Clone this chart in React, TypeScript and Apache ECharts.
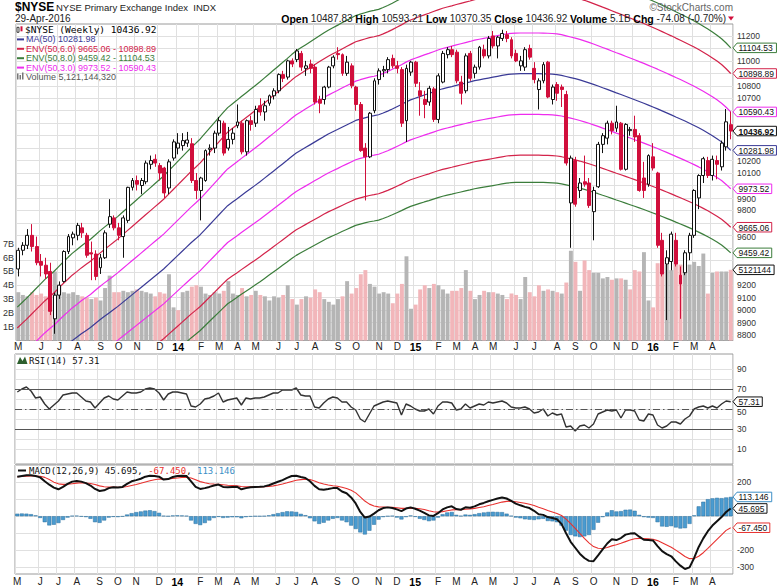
import React, { useEffect, useRef } from "react";
import * as echarts from "echarts";

// ---------------- DATA ----------------
const START_UTC = Date.UTC(2013, 4, 3); // first weekly bar: 3-May-2013
const WEEKS = 157;

const opens = [
  9330, 9480, 9520, 9600, 9510, 9390, 9360, 9310, 8930, 9120,
  9230, 9470, 9580, 9600, 9660, 9600, 9460, 9450, 9340, 9420,
  9690, 9740, 9660, 9590, 9720, 9985, 10040, 10000, 10030, 10170,
  10210, 10160, 10140, 9980, 10220, 10300, 10320, 10340, 10335, 10040,
  9960, 10040, 10290, 10300, 10420, 10500, 10300, 10370, 10480, 10500,
  10270, 10520, 10500, 10640, 10590, 10660, 10720, 10760, 10890, 10870,
  11000, 11010, 11060, 10940, 10975, 10950, 10690, 10690, 10790, 10960,
  11060, 11050, 10900, 10960, 10790, 10650, 10300, 10230, 10600, 10850,
  10920, 10930, 11020, 10960, 10930, 10520, 10910, 10990, 10760, 10690,
  10670, 10775, 10530, 10830, 11050, 11090, 11070, 10830, 10760, 11060,
  10900, 10950, 11090, 11040, 11200, 11120, 11180, 11210, 11170, 11060,
  10960, 10950, 11100, 10940, 10770, 10840, 10990, 10690, 10810, 10790,
  10730, 9860, 10200, 9960, 10030, 10020, 9790, 9990, 10330, 10380,
  10500, 10460, 10500, 10130, 10440, 10450, 10400, 10060, 10010, 10230,
  10100, 9560, 9370, 9390, 9560, 9280, 9300, 9460, 9600, 9900,
  10080, 10200, 10080, 10200, 10150, 10310, 10487.83,
];
const highs = [
  9500, 9545, 9650, 9690, 9590, 9450, 9420, 9380, 9140, 9230,
  9480, 9610, 9630, 9700, 9700, 9620, 9550, 9480, 9450, 9640,
  9890, 9760, 9700, 9760, 9990, 10060, 10080, 10060, 10200, 10240,
  10250, 10180, 10150, 10210, 10370, 10420, 10420, 10430, 10380, 10100,
  10070, 10290, 10330, 10440, 10550, 10520, 10470, 10460, 10650, 10520,
  10530, 10560, 10640, 10700, 10680, 10730, 10780, 10900, 10920, 11010,
  11020, 11095, 11080, 11000, 11010, 10975, 10720, 10800, 10960, 11045,
  11110, 11060, 11040, 10980, 10800, 10670, 10340, 10590, 10860, 10940,
  10960, 11030, 11050, 11000, 10950, 10970, 11000, 11000, 10830, 10760,
  10800, 10790, 10900, 11080, 11110, 11120, 11090, 10880, 11060, 11080,
  10970, 11120, 11130, 11200, 11240, 11200, 11250, 11240, 11190, 11090,
  11040, 11110, 11130, 10990, 10860, 10990, 11000, 10810, 10830, 10810,
  10760, 10240, 10230, 10060, 10240, 10060, 9990, 10350, 10420, 10520,
  10520, 10640, 10510, 10500, 10470, 10560, 10420, 10190, 10250, 10340,
  10110, 9620, 9480, 9630, 9620, 9350, 9480, 9620, 9970, 10090,
  10230, 10230, 10240, 10240, 10360, 10614, 10593.21,
];
const lows = [
  9270, 9440, 9490, 9470, 9360, 9270, 9250, 8960, 8810, 9090,
  9220, 9450, 9520, 9560, 9580, 9420, 9240, 9240, 9290, 9410,
  9660, 9640, 9560, 9420, 9700, 9960, 9960, 9930, 10010, 10130,
  10150, 10040, 9900, 9930, 10200, 10250, 10280, 10310, 10020, 9890,
  9720, 10030, 10240, 10260, 10400, 10240, 10280, 10330, 10460, 10250,
  10240, 10440, 10470, 10560, 10520, 10640, 10690, 10740, 10830, 10850,
  10950, 10990, 10920, 10880, 10900, 10650, 10580, 10650, 10780, 10940,
  11010, 10880, 10880, 10780, 10600, 10270, 9880, 10220, 10580, 10810,
  10870, 10900, 10940, 10900, 10470, 10350, 10880, 10790, 10560, 10540,
  10640, 10510, 10500, 10820, 11020, 11030, 10820, 10650, 10740, 10840,
  10860, 10930, 11020, 11020, 11100, 11020, 11160, 11150, 11020, 10990,
  10920, 10920, 11010, 10820, 10610, 10820, 10700, 10650, 10680, 10630,
  10160, 9500, 9830, 9900, 9990, 9820, 9560, 9980, 10260, 10330,
  10410, 10430, 10120, 10120, 10400, 10350, 9950, 9900, 9990, 10120,
  9500, 9270, 8920, 9320, 9350, 8930, 9280, 9400, 9580, 9810,
  10020, 10060, 10040, 10050, 10120, 10280, 10370.35,
];
const closes = [
  9480, 9520, 9600, 9510, 9380, 9360, 9290, 8990, 9120, 9200,
  9470, 9590, 9610, 9680, 9620, 9440, 9450, 9270, 9420, 9620,
  9750, 9660, 9600, 9740, 9985, 10040, 10010, 10040, 10180, 10200,
  10180, 10100, 9940, 10190, 10350, 10340, 10360, 10365, 10040, 9960,
  10060, 10280, 10300, 10420, 10520, 10260, 10370, 10420, 10510, 10270,
  10520, 10490, 10610, 10590, 10640, 10720, 10760, 10890, 10860, 11000,
  10975, 11080, 10950, 10960, 10940, 10670, 10660, 10790, 10950, 11030,
  11050, 10900, 10990, 10800, 10650, 10280, 10230, 10580, 10840, 10920,
  10930, 11010, 10960, 10940, 10500, 10940, 10990, 10820, 10720, 10650,
  10780, 10530, 10880, 11060, 11090, 11050, 10840, 10740, 11040, 10860,
  10950, 11110, 11040, 11180, 11120, 11190, 11220, 11180, 11040, 11000,
  11000, 11090, 11030, 10850, 10840, 10970, 10710, 10790, 10740, 10770,
  10180, 10220, 9850, 10020, 10010, 9840, 9960, 10330, 10400, 10500,
  10440, 10510, 10130, 10490, 10450, 10390, 9960, 9960, 10240, 10140,
  9520, 9290, 9420, 9610, 9370, 9210, 9460, 9600, 9960, 10080,
  10215, 10080, 10210, 10170, 10340, 10511, 10436.92,
];
// weekly volume, billions of shares
const volumes = [
  3.5, 3.3, 3.2, 3.5, 3.3, 3.4, 3.2, 4.6, 5.0, 3.9,
  3.5, 3.4, 3.5, 3.3, 3.2, 3.1, 3.0, 3.1, 2.9, 3.8,
  4.7, 3.5, 3.5, 3.6, 3.5, 3.6, 3.7, 3.6, 3.5, 3.4,
  3.2, 3.5, 3.4, 4.8, 2.4, 2.2, 3.5, 3.6, 3.9, 4.0,
  3.9, 3.4, 3.3, 3.5, 3.4, 3.6, 4.3, 3.4, 3.3, 3.8,
  3.2, 3.3, 3.6, 3.3, 3.2, 2.9, 3.2, 3.1, 3.3, 4.0,
  3.0, 2.6, 3.0, 3.2, 3.1, 3.7, 3.5, 3.0, 2.8, 2.6,
  3.0, 3.2, 4.3, 3.4, 3.8, 4.8, 5.1, 4.1, 3.9, 3.4,
  3.5, 3.4, 2.7, 3.4, 4.1, 6.1, 2.3, 2.6, 3.7, 4.0,
  3.8, 4.1, 4.0, 3.7, 3.4, 3.6, 3.6, 3.8, 5.1, 3.6,
  3.0, 3.3, 3.6, 3.5, 3.5, 3.4, 3.3, 3.0, 3.4, 3.3,
  3.0, 4.6, 3.5, 3.2, 4.0, 3.6, 3.7, 3.6, 3.5, 3.4,
  4.2, 6.5, 5.7, 3.6, 5.8, 5.1, 4.9, 4.9, 4.5, 4.6,
  4.4, 4.5, 4.5, 4.4, 3.7, 5.1, 5.0, 6.4, 2.9, 2.4,
  5.6, 5.9, 5.5, 5.1, 5.6, 5.5, 5.0, 5.5, 5.7, 5.4,
  6.3, 3.4, 4.9, 5.0, 5.0, 5.0, 5.121144320,
];
const ma50 = [
  8355, 8388, 8420, 8455, 8490, 8525, 8560, 8590, 8620, 8655,
  8690, 8722, 8755, 8782, 8810, 8835, 8860, 8890, 8920, 8948,
  8975, 9002, 9030, 9060, 9090, 9120, 9150, 9180, 9210, 9240,
  9270, 9300, 9330, 9365, 9400, 9435, 9470, 9505, 9540, 9572,
  9605, 9644, 9683, 9722, 9761, 9800, 9838, 9865, 9892, 9920,
  9947, 9974, 10001, 10028, 10057, 10086, 10115, 10144, 10173, 10202,
  10232, 10260, 10282, 10304, 10326, 10348, 10370, 10392, 10413, 10431,
  10449, 10468, 10486, 10504, 10522, 10533, 10543, 10553, 10560, 10568,
  10582, 10597, 10614, 10632, 10650, 10670, 10687, 10700, 10713, 10726,
  10738, 10751, 10764, 10776, 10785, 10794, 10804, 10813, 10822, 10831,
  10841, 10848, 10855, 10862, 10869, 10876, 10883, 10890, 10894, 10896,
  10897, 10897, 10897, 10897, 10897, 10896, 10895, 10893, 10890, 10884,
  10875, 10866, 10857, 10847, 10836, 10824, 10811, 10798, 10784, 10771,
  10757, 10743, 10730, 10716, 10702, 10688, 10674, 10660, 10645, 10630,
  10615, 10599, 10583, 10567, 10550, 10534, 10517, 10500, 10482, 10463,
  10443, 10422, 10400, 10376, 10350, 10318, 10281.975,
];
const rsi14 = [
  67, 70, 72, 68, 61, 62, 55, 50, 54, 58,
  64, 65, 66, 66, 62, 58, 57, 51, 56, 61,
  63, 60, 59, 63, 67, 66, 66, 67, 70, 71,
  70, 66, 59, 65, 67, 67, 66, 65, 53, 52,
  55, 60, 61, 63, 66, 57, 59, 60, 61, 54,
  61, 60, 61, 61, 62, 64, 66, 66, 69, 69,
  69, 71, 64, 63, 63, 52, 51, 56, 60, 62,
  61, 57, 57, 52, 49, 40, 37, 45, 53, 55,
  57, 58, 57, 56, 44, 55, 53, 50, 48, 48,
  50, 45, 53, 57, 57, 56, 49, 50, 55, 51,
  53, 55, 54, 57, 56, 57, 58, 56, 52, 51,
  51, 52, 50, 46, 47, 50, 43, 46, 44, 45,
  32, 33, 28, 33, 34, 31, 35, 45, 47, 49,
  48, 49, 41, 49, 49, 48, 39, 38, 45, 44,
  34, 31, 33, 37, 37, 35, 40, 43, 50, 52,
  53, 51, 53, 51, 55, 58, 57.31,
];
const macdLine = [
  232, 236, 240, 240, 236, 228, 205, 185, 168, 158,
  172, 190, 203, 207, 203, 194, 180, 160, 148, 152,
  165, 170, 168, 172, 190, 205, 212, 220, 232, 238,
  236, 232, 215, 218, 230, 236, 238, 236, 205, 172,
  160, 165, 172, 180, 186, 172, 170, 172, 173, 158,
  165, 170, 172, 173, 175, 182, 192, 202, 212, 225,
  236, 238, 230, 224, 205, 178, 158, 156, 160, 165,
  165, 145, 135, 110, 75, 25, -8, -2, 15, 35,
  48, 52, 48, 40, 30, 45, 52, 44, 33, 20,
  5, 2, 18, 40, 52, 58, 42, 38, 52, 50,
  58, 70, 78, 88, 96, 104, 110, 104, 90, 74,
  64, 55, 48, 32, 12, 8, -5, -10, -18, -45,
  -100, -150, -185, -220, -245, -262, -264, -230, -195, -160,
  -135, -140, -128, -108, -102, -100, -120, -138, -140, -142,
  -175, -205, -222, -235, -265, -290, -310, -300, -245, -180,
  -130, -88, -55, -30, -5, 25, 45.695,
];
const signalLine = [
  232, 233, 235, 236, 236, 235, 228, 215, 200, 190,
  187, 188, 191, 194, 196, 195, 192, 186, 178, 173,
  171, 171, 170, 170, 174, 180, 186, 193, 201, 208,
  214, 218, 218, 218, 221, 224, 227, 229, 224, 214,
  203, 196, 191, 189, 188, 185, 182, 180, 178, 174,
  172, 172, 172, 172, 173, 175, 178, 183, 189, 196,
  204, 211, 215, 217, 215, 207, 197, 189, 183, 179,
  176, 170, 163, 152, 137, 114, 89, 71, 60, 55,
  54, 53, 52, 50, 46, 46, 47, 46, 44, 39,
  32, 26, 24, 27, 32, 37, 38, 38, 41, 43,
  46, 51, 56, 63, 69, 76, 83, 87, 88, 85,
  81, 76, 70, 63, 53, 44, 34, 25, 16, 4,
  -17, -43, -72, -101, -130, -156, -178, -188, -189, -183,
  -174, -167, -159, -149, -140, -132, -130, -131, -133, -135,
  -143, -156, -169, -182, -199, -217, -236, -249, -248, -235,
  -214, -189, -162, -136, -110, -83, -67.45,
];
const macdHist = [
  15, 16, 15, 12, 5, -10, -35, -54, -50, -40,
  -22, -8, 2, 3, -2, -5, -15, -35, -39, -25,
  -8, -4, -5, -2, 10, 18, 24, 28, 33, 35,
  30, 20, 2, 0, 4, 5, 4, 2, -25, -45,
  -52, -40, -25, -10, -4, -10, -8, -6, -6, -12,
  -5, -2, 0, 0, 1, 5, 12, 18, 24, 29,
  28, 25, 14, 6, -12, -30, -45, -38, -25, -15,
  -10, -25, -35, -55, -75, -95, -107, -85, -50, -20,
  -5, 0, 2, -8, -19, -5, 4, -4, -15, -22,
  -29, -25, -8, 12, 22, 25, 8, 2, 10, 8,
  12, 18, 22, 25, 26, 25, 24, 15, 2, -8,
  -12, -18, -20, -22, -18, -15, -28, -30, -35, -55,
  -85, -110, -118, -122, -118, -110, -80, -38, -5, 22,
  35, 28, 30, 38, 39, 32, 8, -5, -8, -10,
  -35, -60, -62, -58, -66, -72, -70, -45, 5, 58,
  85, 100, 105, 108, 106, 110, 113.146,
];

const priceTicks = [8800, 8900, 9000, 9100, 9200, 9300, 9400, 9500, 9600, 9700, 9800, 9900, 10000, 10100, 10200, 10300, 10400, 10500, 10600, 10700, 10800, 10900, 11000, 11100, 11200];
const volumeTicks = [1, 2, 3, 4, 5, 6, 7];
const rsiLabelTicks = [10, 30, 50, 70, 90];
const rsiGridTicks = [10, 20, 30, 40, 50, 60, 70, 80, 90];
const macdTicks = [-300, -200, -100, 0, 100, 200];
const monthLetters = ["J", "F", "M", "A", "M", "J", "J", "A", "S", "O", "N", "D"];
const envelopes = [
  { pct: 6, color: "#d3234a" },
  { pct: 8, color: "#3b7d3b" },
  { pct: 3, color: "#ee2cee" },
];

// ---------------- LAYOUT ----------------
const W = 778;
const H = 587;
const PL = 15;
const PR = 45;
const P_TOP = 24;
const P_BOT = 340.5;
const P_MIN = 8756;
const P_MAX = 11296;
const V_MAX = 22.93;
const R_TOP = 354;
const R_H = 110;
const R_MIN = -5;
const R_MAX = 105;
const M_TOP = 465;
const M_H = 110;
const M_MIN = -339;
const M_MAX = 300.6;
const SANS = '"Liberation Sans", Arial, sans-serif';
const MONO = '"DejaVu Sans Mono", "Liberation Mono", monospace';
const GRIDC = "#e0e0e0";
const FRAME = "#9a9a9a";
const RED = "#d10f3c";
const NAVY = "#3a3a96";
const BLUE = "#3d8fc6";
const SIGRED = "#e8312f";
const AXF = 8.5; // right-axis label / tag font size
const TAG_H = 4.75;
const LABEL_CLEAR = 10;

const dates: Date[] = [];
for (let i = 0; i < WEEKS; i++) dates.push(new Date(START_UTC + i * 7 * 86400000));
const cats = dates.map((d) => d.toISOString().slice(0, 10));
const firstWeek = dates.map((d, i) => i === 0 || d.getUTCMonth() !== dates[i - 1].getUTCMonth());
const LAST = WEEKS - 1;
const MA_LAST = ma50[LAST];

// price-panel tags: [value, colour, bold]
const priceTags: [number, string, boolean][] = [
  [MA_LAST * 1.08, envelopes[1].color, false],
  [MA_LAST * 1.06, envelopes[0].color, false],
  [MA_LAST * 1.03, envelopes[2].color, false],
  [closes[LAST], "#111", true],
  [MA_LAST, NAVY, false],
  [MA_LAST * 0.97, envelopes[2].color, false],
  [MA_LAST * 0.94, envelopes[0].color, false],
  [MA_LAST * 0.92, envelopes[1].color, false],
];
const macdTags: [number, string, number][] = [
  [macdHist[LAST], BLUE, 3],
  [macdLine[LAST], "#111", 3],
  [signalLine[LAST], SIGRED, 3],
];

const priceY = (v: number) => P_TOP + ((P_MAX - v) / (P_MAX - P_MIN)) * (P_BOT - P_TOP);
const volY = (v: number) => P_BOT - (v / V_MAX) * (P_BOT - P_TOP);
const rsiY = (v: number) => R_TOP + ((R_MAX - v) / (R_MAX - R_MIN)) * R_H;
const macdY = (v: number) => M_TOP + ((M_MAX - v) / (M_MAX - M_MIN)) * M_H;

const priceTagYs = [...priceTags.map((t) => priceY(t[0])), volY(volumes[LAST])];
const macdTagYs = macdTags.map((t) => macdY(t[0]));

// right-axis labels; a label that sits close to a value tag is nudged clear of it,
// and one that is covered by a tag (no room to nudge) is left out, as in the source
function rightAxisLabel(values: number[], toY: (v: number) => number, tagYs: number[], key: string) {
  const rich: Record<string, any> = {};
  const names = new Map<number, string>();
  const kept: number[] = [];
  values.forEach((v, i) => {
    const y = toY(v);
    if (tagYs.some((ty) => Math.abs(y - ty) <= 7.2)) return;
    let s = 0;
    tagYs.forEach((ty) => {
      const d = y - ty;
      if (Math.abs(d) < LABEL_CLEAR) {
        const need = (d >= 0 ? 1 : -1) * (LABEL_CLEAR - Math.abs(d));
        if (Math.abs(need) > Math.abs(s)) s = need;
      }
    });
    if (s !== 0 && tagYs.some((ty) => Math.abs(y + s - ty) < LABEL_CLEAR - 0.01)) return;
    kept.push(v);
    if (s !== 0) {
      const name = `${key}${i}`;
      names.set(v, name);
      rich[name] = {
        fontSize: AXF,
        fontFamily: SANS,
        color: "#333",
        padding: s > 0 ? [2 * s, 0, 0, 0] : [0, 0, -2 * s, 0],
      };
    }
  });
  return {
    customValues: kept,
    fontSize: AXF,
    fontFamily: SANS,
    color: "#333",
    margin: 4,
    rich,
    formatter: (v: number) => (names.has(v) ? `{${names.get(v)}|${v}}` : String(v)),
  };
}

function monthFormatter(_v: string, idx: number) {
  const d = dates[idx];
  const m = d.getUTCMonth();
  return m === 0 ? `{y|${String(d.getUTCFullYear()).slice(2)}}` : monthLetters[m];
}

function xAxisFor(gridIndex: number, showLabels: boolean, margin = 2) {
  return {
    type: "category",
    gridIndex,
    data: cats,
    boundaryGap: true,
    axisLine: { show: false },
    axisTick: { show: false },
    axisLabel: {
      show: showLabels,
      interval: (i: number) => firstWeek[i],
      formatter: monthFormatter,
      fontSize: 10,
      fontFamily: SANS,
      color: "#222",
      margin,
      rich: { y: { fontWeight: "bold", fontSize: 10.5, fontFamily: SANS, color: "#000" } },
    },
    splitLine: {
      show: gridIndex !== 1,
      interval: (i: number) => firstWeek[i],
      lineStyle: { color: GRIDC, width: 1 },
    },
  };
}

function textW(t: string, size: number) {
  let w = 0;
  for (const c of t) {
    if (c === "." || c === ",") w += 0.278;
    else if (c === "-") w += 0.333;
    else w += 0.556;
  }
  return w * size;
}

function tag(y: number, text: string, color: string, bold = false) {
  const w = textW(text, AXF) + 8;
  return {
    type: "group",
    x: W - PR,
    y,
    z: 100,
    children: [
      {
        type: "polygon",
        z: 100,
        shape: { points: [[0, 0], [4, -TAG_H], [w, -TAG_H], [w, TAG_H], [4, TAG_H]] },
        style: { fill: "#ffffff", stroke: color, lineWidth: 1 },
      },
      {
        type: "text",
        z: 101,
        x: 5.5,
        y: 0.5,
        style: { text, fill: "#111", font: `${bold ? "bold " : ""}${AXF}px ${SANS}`, verticalAlign: "middle", align: "left" },
      },
    ],
  };
}

function buildOption() {
  const candleData = opens.map((o, i) => [o, closes[i], lows[i], highs[i]]);
  const volData = volumes.map((v, i) => ({
    value: v,
    itemStyle: { color: i > 0 && closes[i] < closes[i - 1] ? "#f2b6ba" : "#b5b5b5" },
  }));
  const linesMax = P_MIN + ((P_MAX - P_MIN) * P_BOT) / (P_BOT - P_TOP);
  const envSeries: any[] = [];
  envelopes.forEach((e) => {
    [1 + e.pct / 100, 1 - e.pct / 100].forEach((f) => {
      envSeries.push({
        type: "line",
        xAxisIndex: 1,
        yAxisIndex: 2,
        data: ma50.map((v) => +(v * f).toFixed(2)),
        symbol: "none",
        z: 2,
        lineStyle: { color: e.color, width: 1.2 },
        silent: true,
      });
    });
  });

  return {
    animation: false,
    backgroundColor: "#fff",
    grid: [
      { left: PL, right: PR, top: P_TOP, height: P_BOT - P_TOP, show: true, borderColor: FRAME, borderWidth: 1, backgroundColor: "transparent" },
      { left: PL, right: PR, top: 0, height: P_BOT, show: false },
      { left: PL, right: PR, top: R_TOP, height: R_H, show: true, borderColor: FRAME, borderWidth: 1 },
      { left: PL, right: PR, top: M_TOP, height: M_H, show: true, borderColor: FRAME, borderWidth: 1 },
    ],
    xAxis: [xAxisFor(0, true, 1), { ...xAxisFor(1, false), show: false }, xAxisFor(2, false), xAxisFor(3, true, 2)],
    yAxis: [
      {
        type: "value",
        gridIndex: 0,
        position: "right",
        min: P_MIN,
        max: P_MAX,
        axisLine: { show: false },
        axisTick: { show: false, customValues: priceTicks },
        axisLabel: rightAxisLabel(priceTicks, priceY, priceTagYs, "p"),
        splitLine: { show: true, lineStyle: { color: GRIDC } },
      },
      {
        type: "value",
        gridIndex: 0,
        position: "left",
        min: 0,
        max: V_MAX,
        axisLine: { show: false },
        axisTick: { show: false, customValues: volumeTicks },
        axisLabel: { customValues: volumeTicks, formatter: (v: number) => `${v}B`, fontSize: 9, fontFamily: SANS, color: "#333", margin: 2 },
        splitLine: { show: false },
      },
      { type: "value", gridIndex: 1, min: P_MIN, max: linesMax, show: false, splitLine: { show: false } },
      {
        type: "value",
        gridIndex: 2,
        position: "right",
        min: R_MIN,
        max: R_MAX,
        axisLine: { show: false },
        axisTick: { show: false, customValues: rsiGridTicks },
        axisLabel: rightAxisLabel(rsiLabelTicks, rsiY, [rsiY(rsi14[LAST])], "r"),
        splitLine: { show: true, lineStyle: { color: GRIDC } },
      },
      {
        type: "value",
        gridIndex: 3,
        position: "right",
        min: M_MIN,
        max: M_MAX,
        axisLine: { show: false },
        axisTick: { show: false, customValues: macdTicks },
        axisLabel: rightAxisLabel(macdTicks, macdY, macdTagYs, "m"),
        splitLine: { show: true, lineStyle: { color: GRIDC } },
      },
    ],
    series: [
      { type: "bar", xAxisIndex: 0, yAxisIndex: 1, data: volData, barCategoryGap: "14%", z: 1, silent: true },
      ...envSeries,
      {
        type: "line",
        xAxisIndex: 1,
        yAxisIndex: 2,
        data: ma50,
        symbol: "none",
        z: 2,
        lineStyle: { color: NAVY, width: 1.2 },
        silent: true,
      },
      {
        type: "candlestick",
        xAxisIndex: 0,
        yAxisIndex: 0,
        data: candleData,
        barWidth: 3.4,
        z: 3,
        silent: true,
        itemStyle: { color: "#ffffff", color0: RED, borderColor: "#111", borderColor0: RED, borderWidth: 1 },
      },
      {
        type: "line",
        xAxisIndex: 2,
        yAxisIndex: 3,
        data: rsi14,
        symbol: "none",
        lineStyle: { color: "#333", width: 1.4 },
        silent: true,
        markLine: {
          silent: true,
          symbol: "none",
          label: { show: false },
          data: [
            { yAxis: 70, lineStyle: { color: "#555", type: "solid", width: 1 } },
            { yAxis: 30, lineStyle: { color: "#555", type: "solid", width: 1 } },
            { yAxis: 50, lineStyle: { color: "#555", type: [7, 3, 1.5, 3], width: 1 } },
          ],
        },
      },
      {
        type: "bar",
        xAxisIndex: 3,
        yAxisIndex: 4,
        data: macdHist,
        barCategoryGap: "12%",
        itemStyle: { color: "#4a9bd0", borderColor: "#2b6e9c", borderWidth: 0.5 },
        silent: true,
      },
      { type: "line", xAxisIndex: 3, yAxisIndex: 4, data: signalLine, symbol: "none", lineStyle: { color: SIGRED, width: 1.1 }, silent: true },
      { type: "line", xAxisIndex: 3, yAxisIndex: 4, data: macdLine, symbol: "none", lineStyle: { color: "#111", width: 2 }, silent: true },
    ],
  };
}

function staticGraphics() {
  const env = (p: number) => `${(MA_LAST * (1 - p / 100)).toFixed(2)} - ${(MA_LAST * (1 + p / 100)).toFixed(2)}`;
  const volStr = Math.round(volumes[LAST] * 1e9).toLocaleString("en-US");
  const chg = closes[LAST] - closes[LAST - 1];
  const chgPct = (chg / closes[LAST - 1]) * 100;
  const t = (x: number, y: number, text: string, font: string, fill = "#000", align = "left") => ({
    type: "text",
    x,
    y,
    z: 50,
    style: { text, font, fill, align, verticalAlign: "middle" },
  });
  const legendRows = [
    { y: 39.4, text: `MA(50) ${MA_LAST.toFixed(2)}`, color: NAVY },
    { y: 48.8, text: `ENV(50,6.0) ${env(6)}`, color: envelopes[0].color },
    { y: 58.2, text: `ENV(50,8.0) ${env(8)}`, color: envelopes[1].color },
    { y: 67.6, text: `ENV(50,3.0) ${env(3)}`, color: envelopes[2].color },
  ];
  const g: any[] = [
    t(15, 7, "$NYSE", `bold 12px ${SANS}`),
    t(56, 7, "NYSE Primary Exchange Index  INDX", `9.5px ${SANS}`, "#222"),
    t(15, 18.5, dates[LAST].getUTCDate() + "-Apr-" + dates[LAST].getUTCFullYear(), `10px ${SANS}`, "#222"),
    t(733, 7, "\u00A9StockCharts.com", `10px ${SANS}`, "#666", "right"),
    {
      type: "text",
      x: 726,
      y: 18.5,
      z: 50,
      style: {
        text:
          `{b|Open} ${opens[LAST].toFixed(2)} {b|High} ${highs[LAST].toFixed(2)} {b|Low} ${lows[LAST].toFixed(2)} ` +
          `{b|Close} ${closes[LAST].toFixed(2)} {b|Volume} ${volumes[LAST].toFixed(1)}B {b|Chg} ${chg.toFixed(2)} (${chgPct.toFixed(2)}%)`,
        font: `10px ${SANS}`,
        fill: "#222",
        align: "right",
        verticalAlign: "middle",
        rich: { b: { fontWeight: "bold", fontSize: 10.5, fontFamily: SANS, fill: "#000" } },
      },
    },
    { type: "polygon", z: 50, shape: { points: [[728, 16.5], [734, 16.5], [731, 20.5]] }, style: { fill: RED } },
    // price legend
    { type: "rect", z: 50, shape: { x: 17, y: 27.3, width: 2, height: 5 }, style: { fill: "#fff", stroke: "#111", lineWidth: 0.8 } },
    { type: "rect", z: 50, shape: { x: 20.5, y: 26.3, width: 2, height: 5 }, style: { fill: RED } },
    t(25, 29.8, `$NYSE (Weekly) ${closes[LAST].toFixed(2)}`, `9.5px ${MONO}`, "#000"),
    { type: "rect", z: 50, shape: { x: 17, y: 73.5, width: 1.5, height: 6 }, style: { fill: "#777" } },
    { type: "rect", z: 50, shape: { x: 19.5, y: 75, width: 1.5, height: 4.5 }, style: { fill: "#777" } },
    { type: "rect", z: 50, shape: { x: 22, y: 72.5, width: 1.5, height: 7 }, style: { fill: "#777" } },
    t(26, 77, `Volume ${volStr}`, `9px ${SANS}`, "#555"),
    // RSI legend
    { type: "polygon", z: 50, shape: { points: [[17, 364], [20, 357], [22.5, 361], [25, 356.5], [27.5, 364]] }, style: { fill: "#2d5f2d" } },
    t(29, 360.5, `RSI(14) ${rsi14[LAST].toFixed(2)}`, `9px ${MONO}`, "#111"),
    // MACD legend
    { type: "rect", z: 50, shape: { x: 18, y: 469.5, width: 8, height: 2 }, style: { fill: "#111" } },
    {
      type: "text",
      x: 29,
      y: 471,
      z: 50,
      style: {
        text: `{k|MACD(12,26,9) ${macdLine[LAST].toFixed(3)}, }{r|${signalLine[LAST].toFixed(3)}}{k|, }{b|${macdHist[LAST].toFixed(3)}}`,
        verticalAlign: "middle",
        rich: {
          k: { fontSize: 9, fontFamily: MONO, fill: "#111" },
          r: { fontSize: 9, fontFamily: MONO, fill: SIGRED },
          b: { fontSize: 9, fontFamily: MONO, fill: BLUE },
        },
      },
    },
  ];
  legendRows.forEach((r) => {
    g.push({ type: "rect", z: 50, shape: { x: 17, y: r.y - 1, width: 7, height: 2 }, style: { fill: r.color } });
    g.push(t(26, r.y, r.text, `9px ${SANS}`, r.color));
  });
  return g;
}

function tagGraphics(chart: any) {
  const items: any[] = [];
  const py = (v: number) => chart.convertToPixel({ yAxisIndex: 0 }, v) as number;
  priceTags.forEach(([v, c, b]) => items.push(tag(py(v), v.toFixed(2), c, b)));
  const vy = chart.convertToPixel({ yAxisIndex: 1 }, volumes[LAST]) as number;
  items.push(tag(vy, String(Math.round(volumes[LAST] * 1e9)).slice(0, 7), "#111"));
  const ry = chart.convertToPixel({ yAxisIndex: 3 }, rsi14[LAST]) as number;
  items.push(tag(ry, rsi14[LAST].toFixed(2), "#111"));
  macdTags.forEach(([v, c, d]) => items.push(tag(chart.convertToPixel({ yAxisIndex: 4 }, v) as number, v.toFixed(d), c)));
  return items;
}

export default function App() {
  const ref = useRef<HTMLDivElement>(null);
  useEffect(() => {
    document.body.style.margin = "0";
    const el = ref.current!;
    const chart = echarts.init(el, null, { renderer: "svg", width: W, height: H });
    chart.setOption(buildOption() as any);
    chart.setOption({ graphic: [...staticGraphics(), ...tagGraphics(chart)] } as any);
    return () => chart.dispose();
  }, []);
  return <div ref={ref} style={{ position: "fixed", left: 0, top: 0, width: W, height: H, background: "#fff" }} />;
}
